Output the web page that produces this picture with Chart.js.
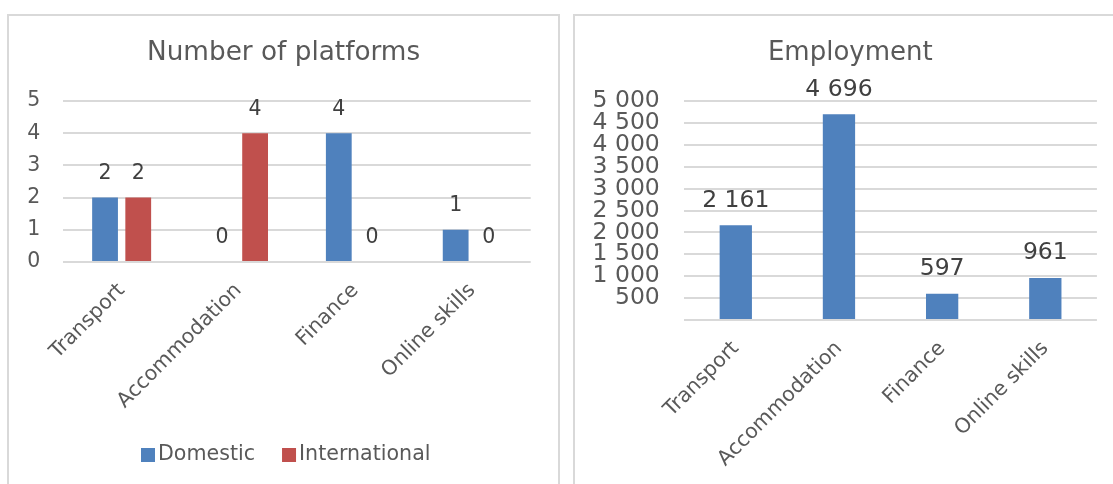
<!DOCTYPE html>
<html>
<head>
<meta charset="utf-8">
<title>Platforms and employment by sector</title>
<script src="https://cdn.jsdelivr.net/npm/chart.js@4.4.1/dist/chart.umd.min.js"></script>
<style>
  html, body { margin: 0; padding: 0; background: #fff; width: 1113px; height: 484px; overflow: hidden; }
  .panel { position: absolute; top: 14px; height: 540px; border: 2px solid #d9d9d9; box-sizing: border-box; }
  #panelLeft { left: 7px; width: 553px; }
  #panelRight { left: 573px; width: 580px; }
  canvas { position: absolute; }
</style>
</head>
<body>
<div class="panel" id="panelLeft"></div>
<div class="panel" id="panelRight"></div>
<canvas id="platforms" width="548" height="467" style="left:9px;top:17px;width:548px;height:467px"></canvas>
<canvas id="employment" width="537" height="467" style="left:576px;top:17px;width:537px;height:467px"></canvas>
<script>
// Sectors shown on both charts
const sectors = ['Transport', 'Accommodation', 'Finance', 'Online skills'];

// Number of platforms per sector
const domesticPlatforms = [2, 0, 4, 1];
const internationalPlatforms = [2, 4, 0, 0];

// Employment per sector
const employment = [2161, 4696, 597, 961];

const FONT = "'DejaVu Sans', Verdana, sans-serif";
const TEXT = '#595959';
const LABEL = '#404040';
const GRID = '#d9d9d9';
const BLUE = '#4F81BD';
const RED = '#C0504D';

Chart.defaults.font.family = FONT;
Chart.defaults.color = TEXT;

// Thousands separated by a space: 4696 -> "4 696"
const fmt = v => String(v).replace(/\B(?=(\d{3})+(?!\d))/g, ' ');

// Value written above every bar
const valueLabels = {
  id: 'valueLabels',
  afterDatasetsDraw(chart, args, o) {
    const ctx = chart.ctx;
    ctx.save();
    ctx.font = `${o.size}px ${FONT}`;
    ctx.fillStyle = o.color;
    ctx.textAlign = 'center';
    ctx.textBaseline = 'middle';
    chart.data.datasets.forEach((ds, i) => {
      chart.getDatasetMeta(i).data.forEach((bar, j) => {
        ctx.fillText(fmt(ds.data[j]), bar.x, bar.y - o.offset);
      });
    });
    ctx.restore();
  }
};

// Chart heading placed at a fixed point of the canvas
const panelTitle = {
  id: 'panelTitle',
  afterDraw(chart, args, o) {
    const ctx = chart.ctx;
    ctx.save();
    ctx.font = `${o.size}px ${FONT}`;
    ctx.fillStyle = o.color;
    ctx.textAlign = 'center';
    ctx.textBaseline = 'middle';
    ctx.fillText(o.text, o.x, o.y);
    ctx.restore();
  }
};

// Compact legend: square swatch, small gap, series name
const swatchLegend = {
  id: 'swatchLegend',
  afterDraw(chart, args, o) {
    const ctx = chart.ctx;
    ctx.save();
    ctx.font = `${o.size}px ${FONT}`;
    ctx.textAlign = 'left';
    ctx.textBaseline = 'middle';
    let x = o.x;
    chart.data.datasets.forEach(ds => {
      ctx.fillStyle = ds.backgroundColor;
      ctx.fillRect(x, o.y - o.box / 2, o.box, o.box);
      x += o.box + o.textGap;
      ctx.fillStyle = o.color;
      ctx.fillText(ds.label, x, o.y);
      x += ctx.measureText(ds.label).width + o.itemGap;
    });
    ctx.restore();
  }
};

const xAxis = (height, size) => ({
  grid: { display: false },
  border: { display: false },
  ticks: { minRotation: 45, maxRotation: 45, autoSkip: false, padding: 8.5, color: TEXT, font: { size } },
  afterFit(scale) { scale.height = height; }
});

new Chart(document.getElementById('platforms'), {
  type: 'bar',
  data: {
    labels: sectors,
    datasets: [
      { label: 'Domestic', data: domesticPlatforms, backgroundColor: BLUE },
      { label: 'International', data: internationalPlatforms, backgroundColor: RED }
    ]
  },
  plugins: [valueLabels, panelTitle, swatchLegend],
  options: {
    responsive: false,
    animation: false,
    events: [],
    datasets: { bar: { categoryPercentage: 0.568, barPercentage: 0.777 } },
    layout: { padding: { top: 84, left: 0, right: 26.3, bottom: 0 } },
    scales: {
      x: xAxis(222, 20.5),
      y: {
        min: 0, max: 5,
        grid: { color: GRID, lineWidth: 2, drawTicks: false },
        border: { display: false },
        ticks: { stepSize: 1, padding: 23, color: TEXT, font: { size: 20.5 } },
        afterFit(scale) { scale.width = 54.2; }
      }
    },
    plugins: {
      legend: { display: false },
      tooltip: { enabled: false },
      valueLabels: { size: 20.5, color: LABEL, offset: 24 },
      panelTitle: { text: 'Number of platforms', size: 26.3, color: TEXT, x: 274.6, y: 35.8 },
      swatchLegend: { x: 132, y: 438, box: 14, textGap: 3, itemGap: 27, size: 20.6, color: TEXT }
    }
  }
});

new Chart(document.getElementById('employment'), {
  type: 'bar',
  data: {
    labels: sectors,
    datasets: [
      { label: 'Employment', data: employment, backgroundColor: BLUE }
    ]
  },
  plugins: [valueLabels, panelTitle],
  options: {
    responsive: false,
    animation: false,
    events: [],
    datasets: { bar: { categoryPercentage: 1, barPercentage: 0.313 } },
    layout: { padding: { top: 84, left: 0, right: 16.1, bottom: 0 } },
    scales: {
      x: xAxis(164, 20.5),
      y: {
        min: 0, max: 5000,
        grid: { color: GRID, lineWidth: 2, drawTicks: false },
        border: { display: false },
        ticks: {
          stepSize: 500, autoSkip: false, padding: 24.4, color: TEXT, font: { size: 23.5 },
          callback: v => (v === 0 ? '' : fmt(v))
        },
        afterFit(scale) { scale.width = 108.2; }
      }
    },
    plugins: {
      legend: { display: false },
      tooltip: { enabled: false },
      valueLabels: { size: 23.5, color: LABEL, offset: 24.6 },
      panelTitle: { text: 'Employment', size: 26, color: TEXT, x: 274.3, y: 36.3 }
    }
  }
});
</script>
</body>
</html>
